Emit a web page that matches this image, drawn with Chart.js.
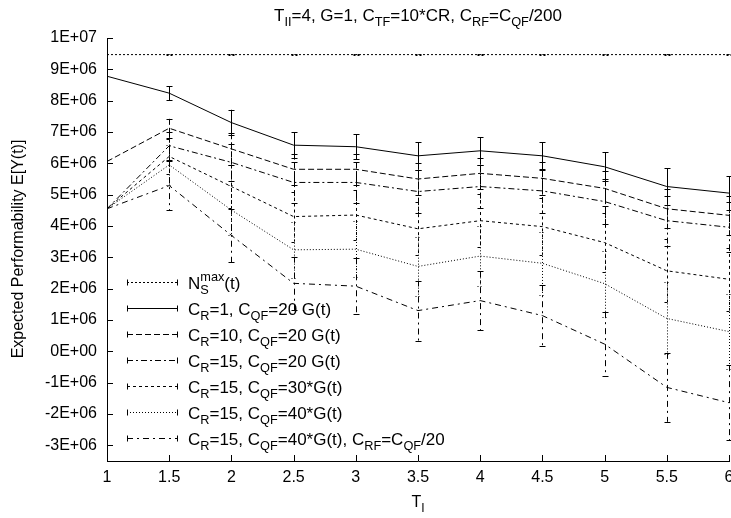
<!DOCTYPE html>
<html>
<head>
<meta charset="utf-8">
<script src="https://cdn.jsdelivr.net/npm/chart.js@4.4.1/dist/chart.umd.min.js"></script>
<style>
  html, body { margin: 0; padding: 0; background: #fff; }
  #wrap { width: 731px; height: 518px; }
</style>
</head>
<body>
<div id="wrap"><canvas id="c" width="731" height="518"></canvas></div>
<script>
const FONT = '"Liberation Sans", Arial, Helvetica, sans-serif';

// T_I values on the x axis
const tI = [1, 1.5, 2, 2.5, 3, 3.5, 4, 4.5, 5, 5.5, 6];
const xTicks = [1, 1.5, 2, 2.5, 3, 3.5, 4, 4.5, 5, 5.5, 6];
const yTicks = [-3e6, -2e6, -1e6, 0, 1e6, 2e6, 3e6, 4e6, 5e6, 6e6, 7e6, 8e6, 9e6, 1e7];

// expected performability per curve, and half-widths of the error bars
const nsMax       = [9.47e6, 9.47e6, 9.47e6, 9.47e6, 9.47e6, 9.47e6, 9.47e6, 9.47e6, 9.47e6, 9.47e6, 9.47e6];
const nsMaxErr    = [0, 0.01e6, 0.01e6, 0.01e6, 0.01e6, 0.01e6, 0.01e6, 0.01e6, 0.01e6, 0.01e6, 0.01e6];
const cr1         = [8.78e6, 8.24e6, 7.30e6, 6.58e6, 6.53e6, 6.24e6, 6.40e6, 6.24e6, 5.89e6, 5.26e6, 5.05e6];
const cr1Err      = [0, 0.22e6, 0.41e6, 0.41e6, 0.40e6, 0.44e6, 0.44e6, 0.44e6, 0.46e6, 0.58e6, 0.53e6];
const cr10        = [6.06e6, 7.12e6, 6.46e6, 5.81e6, 5.81e6, 5.50e6, 5.68e6, 5.52e6, 5.20e6, 4.55e6, 4.34e6];
const cr10Err     = [0, 0.30e6, 0.50e6, 0.50e6, 0.50e6, 0.50e6, 0.50e6, 0.52e6, 0.55e6, 0.62e6, 0.62e6];
const cr15q20     = [4.55e6, 6.56e6, 6.03e6, 5.39e6, 5.39e6, 5.10e6, 5.26e6, 5.12e6, 4.78e6, 4.17e6, 3.96e6];
const cr15q20Err  = [0, 0.45e6, 0.60e6, 0.65e6, 0.65e6, 0.70e6, 0.70e6, 0.70e6, 0.72e6, 0.80e6, 0.80e6];
const cr15q30     = [4.55e6, 6.22e6, 5.26e6, 4.30e6, 4.35e6, 3.91e6, 4.17e6, 3.98e6, 3.47e6, 2.57e6, 2.30e6];
const cr15q30Err  = [0, 0.55e6, 0.70e6, 0.80e6, 0.80e6, 0.85e6, 0.85e6, 0.90e6, 0.95e6, 1.00e6, 1.00e6];
const cr15q40     = [4.55e6, 5.95e6, 4.51e6, 3.24e6, 3.26e6, 2.71e6, 3.04e6, 2.81e6, 2.16e6, 1.05e6, 0.63e6];
const cr15q40Err  = [0, 0.65e6, 0.80e6, 0.90e6, 0.90e6, 0.95e6, 0.95e6, 1.00e6, 1.05e6, 1.15e6, 1.20e6];
const cr15q40rf   = [4.55e6, 5.29e6, 3.70e6, 2.17e6, 2.08e6, 1.30e6, 1.62e6, 1.14e6, 0.23e6, -1.15e6, -1.64e6];
const cr15q40rfErr = [0, 0.78e6, 0.85e6, 0.85e6, 0.89e6, 0.96e6, 0.94e6, 0.97e6, 1.02e6, 1.10e6, 1.20e6];

// key texts, _{..} is a subscript and ^{..} a superscript
const keyLabels = [
  'N_{S}^{max}(t)',
  'C_{R}=1, C_{QF}=20 G(t)',
  'C_{R}=10, C_{QF}=20 G(t)',
  'C_{R}=15, C_{QF}=20 G(t)',
  'C_{R}=15, C_{QF}=30*G(t)',
  'C_{R}=15, C_{QF}=40*G(t)',
  'C_{R}=15, C_{QF}=40*G(t), C_{RF}=C_{QF}/20'
];
const titleText = 'T_{II}=4, G=1, C_{TF}=10*CR, C_{RF}=C_{QF}/200';
const xTitle = 'T_{I}';
const yTitle = 'Expected Performability E[Y(t)]';

const series = [nsMax, cr1, cr10, cr15q20, cr15q30, cr15q40, cr15q40rf];
const errors = [nsMaxErr, cr1Err, cr10Err, cr15q20Err, cr15q30Err, cr15q40Err, cr15q40rfErr];
const dashes = [[2, 2], [], [6, 3], [6, 3, 2, 3], [3, 3], [1, 2], [6, 4, 2, 4]];

const SUB = 0.75;

function sci(v) {
  if (v === 0) return '0E+00';
  const e = Math.floor(Math.log10(Math.abs(v)) + 1e-9);
  const m = Math.round(v / Math.pow(10, e));
  return m + 'E+' + String(e).padStart(2, '0');
}

// split "C_{R}=1" style markup into runs
function parseRich(s) {
  const out = [];
  let i = 0, buf = '';
  while (i < s.length) {
    const c = s[i];
    if ((c === '_' || c === '^') && s[i + 1] === '{') {
      if (buf) { out.push({ t: buf, k: 'n' }); buf = ''; }
      const end = s.indexOf('}', i);
      out.push({ t: s.slice(i + 2, end), k: c === '_' ? 'sub' : 'sup' });
      i = end + 1;
    } else { buf += c; i++; }
  }
  if (buf) out.push({ t: buf, k: 'n' });
  return out;
}

function richWidth(ctx, runs, size) {
  let w = 0;
  for (let i = 0; i < runs.length; i++) {
    const r = runs[i];
    ctx.font = (r.k === 'n' ? size : size * SUB) + 'px ' + FONT;
    let rw = ctx.measureText(r.t).width;
    const nx = runs[i + 1];
    if (r.k === 'sub' && nx && nx.k === 'sup') {
      rw = Math.max(rw, ctx.measureText(nx.t).width);
      i++;
    }
    w += rw;
  }
  return w;
}

function drawRich(ctx, text, x, y, size, align) {
  const runs = parseRich(text);
  let cx = align === 'center' ? x - richWidth(ctx, runs, size) / 2 : x;
  ctx.textBaseline = 'alphabetic';
  ctx.textAlign = 'left';
  ctx.fillStyle = '#000';
  for (let i = 0; i < runs.length; i++) {
    const r = runs[i];
    if (r.k === 'n') {
      ctx.font = size + 'px ' + FONT;
      ctx.fillText(r.t, cx, y);
      cx += ctx.measureText(r.t).width;
      continue;
    }
    ctx.font = (size * SUB) + 'px ' + FONT;
    const dy = r.k === 'sub' ? size * 0.3 : -size * 0.42;
    ctx.fillText(r.t, cx, y + dy);
    let rw = ctx.measureText(r.t).width;
    const nx = runs[i + 1];
    if (r.k === 'sub' && nx && nx.k === 'sup') {
      ctx.fillText(nx.t, cx, y - size * 0.42);
      rw = Math.max(rw, ctx.measureText(nx.t).width);
      i++;
    }
    cx += rw;
  }
}

const decorations = {
  id: 'decorations',
  afterDatasetsDraw(chart) {
    const { ctx, chartArea, scales: { x, y } } = chart;
    ctx.save();
    ctx.strokeStyle = '#000';
    ctx.lineWidth = 1;

    // error bars
    chart.data.datasets.forEach(ds => {
      ctx.setLineDash(ds.borderDash || []);
      ds.data.forEach((p, i) => {
        const e = ds.errors[i];
        if (!e) return;
        const px = Math.round(x.getPixelForValue(p.x)) + 0.5;
        const y1 = y.getPixelForValue(p.y + e);
        const y2 = y.getPixelForValue(p.y - e);
        ctx.beginPath();
        ctx.moveTo(px, y1); ctx.lineTo(px, y2);
        ctx.moveTo(px - 3, Math.round(y1) + 0.5); ctx.lineTo(px + 3, Math.round(y1) + 0.5);
        ctx.moveTo(px - 3, Math.round(y2) + 0.5); ctx.lineTo(px + 3, Math.round(y2) + 0.5);
        ctx.stroke();
      });
    });
    ctx.setLineDash([]);

    // inward tick marks
    ctx.beginPath();
    yTicks.forEach(v => {
      const py = Math.round(y.getPixelForValue(v)) + 0.5;
      ctx.moveTo(chartArea.left, py); ctx.lineTo(chartArea.left + 6, py);
    });
    xTicks.forEach(v => {
      const px = Math.round(x.getPixelForValue(v)) + 0.5;
      ctx.moveTo(px, chartArea.bottom); ctx.lineTo(px, chartArea.bottom - 6);
    });
    ctx.stroke();

    // key
    const rowTop = 281.7, rowGap = 26.1;
    chart.data.datasets.forEach((ds, i) => {
      const ry = Math.round(rowTop + i * rowGap) + 0.5;
      ctx.setLineDash(ds.borderDash || []);
      ctx.beginPath();
      ctx.moveTo(127, ry); ctx.lineTo(178, ry);
      ctx.stroke();
      ctx.setLineDash([]);
      ctx.beginPath();
      ctx.moveTo(127.5, ry - 3); ctx.lineTo(127.5, ry + 3);
      ctx.moveTo(177.5, ry - 3); ctx.lineTo(177.5, ry + 3);
      ctx.stroke();
      drawRich(ctx, keyLabels[i], 188, ry + 6, 17, 'left');
    });

    // titles
    drawRich(ctx, titleText, 418, 20.5, 17, 'center');
    drawRich(ctx, xTitle, 418, 507, 16, 'center');
    ctx.translate(23, 249);
    ctx.rotate(-Math.PI / 2);
    drawRich(ctx, yTitle, 0, 0, 16, 'center');
    ctx.restore();
  }
};

new Chart(document.getElementById('c'), {
  type: 'line',
  data: {
    datasets: series.map((vals, k) => ({
      label: keyLabels[k],
      data: tI.map((t, i) => ({ x: t, y: vals[i] })),
      errors: errors[k],
      borderColor: '#000',
      borderWidth: 1,
      borderDash: dashes[k],
      pointRadius: 0,
      tension: 0,
      fill: false
    }))
  },
  options: {
    responsive: false,
    animation: false,
    layout: { padding: { left: 0, top: 38, right: 2, bottom: 0 } },
    plugins: { legend: { display: false }, tooltip: { enabled: false }, title: { display: false } },
    scales: {
      x: {
        type: 'linear',
        min: 1,
        max: 6,
        afterBuildTicks: s => { s.ticks = xTicks.map(v => ({ value: v })); },
        afterFit: s => { s.height = 57; s.paddingLeft = 0; s.paddingRight = 0; },
        grid: { display: false, drawTicks: false },
        border: { display: true, color: '#000', width: 1 },
        ticks: {
          color: '#000',
          font: { family: FONT, size: 16 },
          padding: 7,
          maxRotation: 0,
          autoSkip: false,
          callback: v => String(v)
        }
      },
      y: {
        type: 'linear',
        min: -3.5e6,
        max: 1e7,
        afterBuildTicks: s => { s.ticks = yTicks.map(v => ({ value: v })); },
        afterFit: s => { s.width = 107; s.paddingTop = 0; s.paddingBottom = 0; },
        grid: { display: false, drawTicks: false },
        border: { display: true, color: '#000', width: 1 },
        ticks: {
          color: '#000',
          font: { family: FONT, size: 16 },
          padding: 10,
          autoSkip: false,
          callback: v => sci(v)
        }
      }
    }
  },
  plugins: [decorations]
});
</script>
</body>
</html>
